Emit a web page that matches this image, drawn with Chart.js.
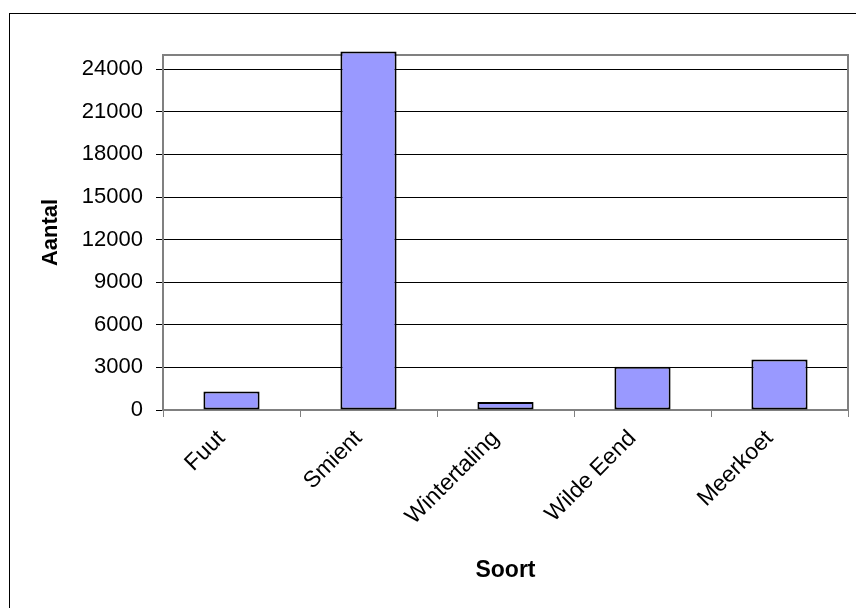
<!DOCTYPE html>
<html>
<head>
<meta charset="utf-8">
<script src="https://cdn.jsdelivr.net/npm/chart.js@4/dist/chart.umd.min.js"></script>
<style>
  html, body { margin: 0; padding: 0; background: #fff; overflow: hidden; }
  #frame { position: absolute; left: 9px; top: 13px; width: 900px; height: 700px; border: 1px solid #000; }
  #wrap { position: absolute; left: 0; top: 0; width: 856px; height: 608px; }
</style>
</head>
<body>
<div id="frame"></div>
<div id="wrap"><canvas id="c" width="856" height="608"></canvas></div>
<script>
const categories = ["Fuut", "Smient", "Wintertaling", "Wilde Eend", "Meerkoet"];
const aantal = [1310, 25250, 560, 3050, 3560];
const yTicks = [0, 3000, 6000, 9000, 12000, 15000, 18000, 21000, 24000];
const yAxisTitle = "Aantal";
const xAxisTitle = "Soort";
const yMin = 0, yMax = 25000;

const FONT = "'Liberation Sans', Arial, sans-serif";

const plotBorder = {
  id: 'plotBorder',
  beforeDatasetsDraw(chart) {
    const {ctx, chartArea: a} = chart;
    ctx.save();
    ctx.strokeStyle = '#808080';
    ctx.lineWidth = 2;
    ctx.beginPath();
    ctx.moveTo(a.left, a.bottom);
    ctx.lineTo(a.left, a.top);
    ctx.lineTo(a.right, a.top);
    ctx.lineTo(a.right, a.bottom);
    ctx.stroke();
    ctx.restore();
  }
};

new Chart(document.getElementById('c'), {
  type: 'bar',
  data: {
    labels: categories,
    datasets: [{
      data: aantal,
      backgroundColor: '#9999FF',
      borderColor: '#000000',
      borderWidth: 2,
      borderSkipped: false,
      barPercentage: 0.41,
      categoryPercentage: 1,
      clip: false
    }]
  },
  options: {
    responsive: false,
    animation: false,
    layout: { padding: { top: 55, right: 8, left: 0, bottom: 0 } },
    plugins: { legend: { display: false }, tooltip: { enabled: false } },
    scales: {
      x: {
        offset: true,
        grid: { display: true, drawOnChartArea: false, drawTicks: true, tickLength: 7, color: '#808080', lineWidth: 1, offset: true },
        border: { display: true, color: '#808080', width: 2 },
        ticks: { color: '#000', font: { family: FONT, size: 23 }, minRotation: 45, maxRotation: 45, padding: 8, labelOffset: -10, autoSkip: false },
        title: { display: true, text: xAxisTitle, color: '#000', font: { family: FONT, size: 23, weight: 'bold' }, padding: { top: 0, bottom: 24 } },
        afterFit(scale) { scale.height = 198; }
      },
      y: {
        min: yMin, max: yMax,
        afterBuildTicks(scale) { scale.ticks = yTicks.map(v => ({ value: v })); },
        grid: { color: '#000', lineWidth: 1, tickLength: 7, tickColor: '#000' },
        border: { display: true, color: '#808080', width: 2 },
        ticks: { color: '#000', font: { family: FONT, size: 22 }, padding: 13, callback: v => String(v) },
        title: { display: true, text: yAxisTitle, color: '#000', font: { family: FONT, size: 22, weight: 'bold' }, padding: { top: 38, bottom: 0 } },
        afterFit(scale) { scale.width = 163; }
      }
    }
  },
  plugins: [plotBorder]
});
</script>
</body>
</html>
